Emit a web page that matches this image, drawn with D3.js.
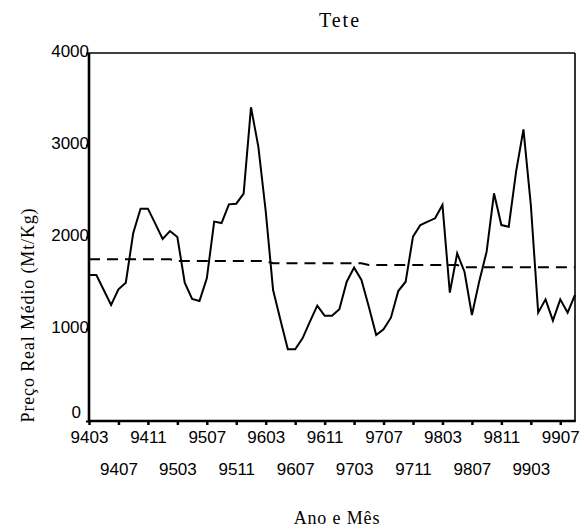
<!DOCTYPE html>
<html>
<head>
<meta charset="utf-8">
<script src="https://cdn.jsdelivr.net/npm/d3@7"></script>
<style>
html,body{margin:0;padding:0;background:#fff;}
svg{display:block;}
</style>
</head>
<body>
<svg id="chart" width="585" height="530"></svg>
<script>
const title = "Tete";
const yTitle = "Preço Real Médio (Mt/Kg)";
const xTitle = "Ano e Mês";

const months = [
  "9403","9404","9405","9406","9407","9408","9409","9410","9411","9412",
  "9501","9502","9503","9504","9505","9506","9507","9508","9509","9510","9511","9512",
  "9601","9602","9603","9604","9605","9606","9607","9608","9609","9610","9611","9612",
  "9701","9702","9703","9704","9705","9706","9707","9708","9709","9710","9711","9712",
  "9801","9802","9803","9804","9805","9806","9807","9808","9809","9810","9811","9812",
  "9901","9902","9903","9904","9905","9906","9907","9908","9909"
];

const price = [
  1587,1587,1424,1261,1431,1504,2040,2308,2308,2145,
  1978,2065,2000,1504,1326,1304,1551,2167,2152,2355,2362,2471,
  3410,2980,2280,1424,1098,779,779,899,1080,1254,1145,1145,
  1214,1514,1667,1533,1243,935,996,1123,1413,1514,2004,2130,
  2167,2203,2348,1395,1822,1620,1152,1520,1841,2475,2130,2112,
  2710,3170,2350,1178,1322,1091,1322,1178,1370
];

const trend = [
  1757,1757,1757,1757,1757,1757,1757,1757,1757,1757,
  1757,1757,1739,1739,1739,1739,1739,1739,1739,1739,1739,1739,
  1739,1739,1739,1714,1714,1714,1714,1714,1714,1714,1714,1714,
  1714,1714,1714,1714,1696,1696,1696,1696,1696,1696,1696,1696,
  1696,1696,1696,1696,1696,1670,1670,1670,1670,1670,1670,1670,
  1670,1670,1670,1670,1670,1670,1670,1670,1670
];

const yTicks = [0, 1000, 2000, 3000, 4000];
const xTickLabels = ["9403","9407","9411","9503","9507","9511","9603","9607","9611",
  "9703","9707","9711","9803","9807","9811","9903","9907"];

const svg = d3.select("#chart");
const L = 89, R = 575, T = 53, B = 421;

const x = d3.scalePoint().domain(months).range([L, R]);
const y = d3.scaleLinear().domain([0, 4000]).range([B, T]);

const sans = "'Liberation Sans', Arial, sans-serif";
const serif = "'Liberation Serif', 'Times New Roman', serif";

// Frame: top and right thin
svg.append("line").attr("x1", L).attr("x2", R).attr("y1", T).attr("y2", T)
  .attr("stroke", "#000").attr("stroke-width", 1.6);
svg.append("line").attr("x1", R).attr("x2", R).attr("y1", T).attr("y2", B)
  .attr("stroke", "#000").attr("stroke-width", 1.6);

// Lines
const line = d3.line().x((d, i) => x(months[i])).y(d => y(d));
svg.append("path").datum(trend).attr("d", line)
  .attr("fill", "none").attr("stroke", "#000").attr("stroke-width", 2)
  .attr("stroke-dasharray", "11,7");
svg.append("path").datum(price).attr("d", line)
  .attr("fill", "none").attr("stroke", "#000").attr("stroke-width", 2)
  .attr("stroke-linejoin", "miter");

// Y axis
const yAxis = d3.axisLeft(y).tickValues(yTicks).tickSize(3).tickPadding(0).tickFormat(d3.format("d"));
const gy = svg.append("g").attr("transform", `translate(${L},0)`).call(yAxis);
gy.select(".domain").remove();
gy.selectAll(".tick line").attr("stroke", "#000").attr("stroke-width", 2);
gy.selectAll(".tick text")
  .attr("font-family", sans).attr("font-size", 17).attr("fill", "#000")
  .attr("x", d => d === 0 ? -8 : 0)
  .attr("dy", d => d === 0 ? "-0.2em" : "0.2em")
  .attr("text-anchor", "end");

// X axis
const xAxis = d3.axisBottom(x).tickValues(months.filter((m, i) => i % 4 === 0))
  .tickSize(4).tickPadding(4);
const gx = svg.append("g").attr("transform", `translate(0,${B})`).call(xAxis);
gx.select(".domain").remove();
gx.selectAll(".tick line").attr("stroke", "#000").attr("stroke-width", 2.5);
gx.selectAll(".tick text")
  .attr("font-family", sans).attr("font-size", 17).attr("fill", "#000")
  .text(d => xTickLabels.includes(d) ? d : "")
  .attr("y", (d) => (months.indexOf(d) / 4) % 2 === 0 ? 9 : 41)
  .attr("dy", "0.75em");

// Axis lines: left and bottom thicker
svg.append("line").attr("x1", L).attr("x2", L).attr("y1", T).attr("y2", B)
  .attr("stroke", "#000").attr("stroke-width", 2.6);
svg.append("line").attr("x1", L).attr("x2", R + 0.8).attr("y1", B).attr("y2", B)
  .attr("stroke", "#000").attr("stroke-width", 2.6);

// Titles
svg.append("text").attr("x", 340).attr("y", 27)
  .attr("text-anchor", "middle").attr("font-family", serif).attr("font-size", 20)
  .attr("letter-spacing", 2).attr("fill", "#000").text(title);

svg.append("text").attr("transform", "translate(34,315) rotate(-90)")
  .attr("text-anchor", "middle").attr("font-family", serif).attr("font-size", 18)
  .attr("letter-spacing", 0.85).attr("fill", "#000").text(yTitle);

svg.append("text").attr("x", 337).attr("y", 524)
  .attr("text-anchor", "middle").attr("font-family", serif).attr("font-size", 18)
  .attr("letter-spacing", 0.85).attr("fill", "#000").text(xTitle);
</script>
</body>
</html>
